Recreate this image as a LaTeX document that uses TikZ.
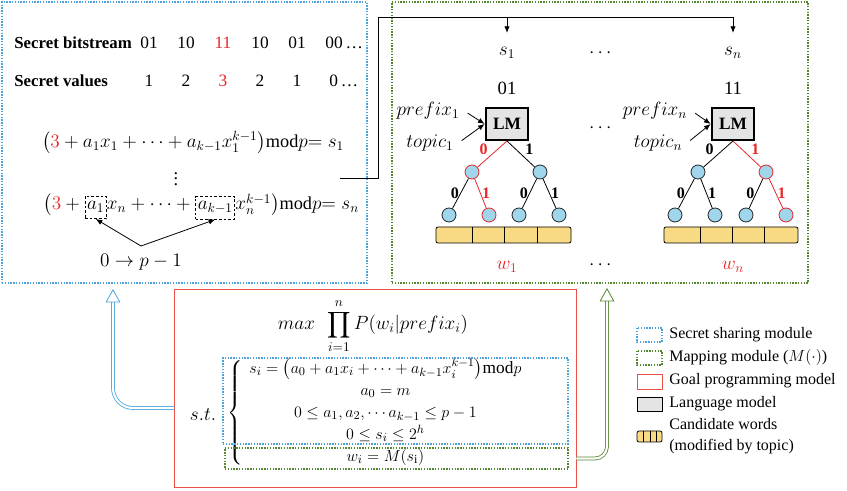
\documentclass[tikz,border=0pt]{standalone}
\usepackage{fontspec}
\setmainfont{Liberation Serif}
\usepackage{amsmath,amssymb}
\usetikzlibrary{arrows.meta,calc,positioning,fit}
\definecolor{shareblue}{RGB}{75,163,218}
\definecolor{mapgreen}{RGB}{84,135,48}
\definecolor{goalred}{RGB}{232,82,72}
\definecolor{bitred}{RGB}{232,38,42}
\definecolor{nodeblue}{RGB}{160,214,236}
\definecolor{lmgray}{RGB}{228,228,228}
\definecolor{wordyellow}{RGB}{249,218,132}

\tikzset{
  sharebox/.style={draw=shareblue, line width=1.4pt, dash pattern=on 1pt off 1.1pt, inner sep=0pt},
  mapbox/.style={draw=mapgreen, line width=1.4pt, dash pattern=on 1pt off 1.1pt, inner sep=0pt},
  goalbox/.style={draw=goalred, line width=0.6pt, inner sep=0pt},
  eq/.style={font=\fontsize{13.7}{16}\selectfont},
  rowlabel/.style={anchor=base west, inner sep=0pt, font=\bfseries\fontsize{12.6}{15}\selectfont},
  lmbox/.style={draw, fill=lmgray, line width=1.5pt, minimum width=32pt, minimum height=24pt, inner sep=0pt, font=\bfseries\fontsize{13}{15}\selectfont},
  leaf/.style={circle, draw=black!85, fill=nodeblue, minimum size=10.5pt, inner sep=0pt, line width=0.6pt},
  redleaf/.style={leaf, draw=bitred},
  bit/.style={font=\bfseries\fontsize{12}{14}\selectfont, inner sep=1pt},
  dashbox/.style={draw, dashed, dash pattern=on 2pt off 1.5pt, line width=0.5pt, inner sep=1.5pt, minimum height=17pt},
  wordbar/.style={draw, fill=wordyellow, rounded corners=1.5pt, line width=0.6pt},
  legend/.style={anchor=west, inner sep=0pt, font=\fontsize{12}{16}\selectfont},
  hollow/.style={double=white, double distance=1.6pt, line width=0.6pt, -{Triangle[open, length=10pt, width=11pt]}}
}

\begin{document}
\begin{tikzpicture}[x=0.75pt, y=-0.75pt, font=\fontsize{13}{15}\selectfont, >={Latex[length=5pt,width=4pt]}, line width=0.6pt]
  \useasboundingbox (0,0) rectangle (847,491);

  % Module frames
  \node[sharebox, fit={(2,2) (367,283)}] (share) {};
  \node[mapbox, fit={(392,2) (808,283)}] (map) {};
  \node[goalbox, fit={(174,289) (576,487)}] (goal) {};

  % Secret bitstream and values
  \node[rowlabel] (bitlbl) at (14,49) {Secret bitstream};
  \node[rowlabel] (vallbl) at (14,87) {Secret values};
  \foreach \b/\v/\xx/\c in {01/1/149/black,10/2/186/black,11/3/223/bitred,10/2/260/black,01/1/297/black}{
    \node[anchor=base, text=\c] (b\xx) at (\xx,49) {\b};
    \node[anchor=base, text=\c] (v\xx) at (\xx,87) {\v};
  }
  \node[anchor=base west, inner sep=0pt] (blast) at (325,49) {00\,\dots};
  \node[anchor=base west, inner sep=0pt] (vlast) at (329,87) {0\,\dots};

  % Shares
  \node[eq, anchor=base] (eq1) at (193,148) {$\bigl(\textcolor{bitred}{3}+a_1x_1+\cdots+a_{k-1}x_1^{k-1}\bigr)\mathrm{mod}p{=}\;s_1$};
  \node[eq] (vdots) at (176,175) {$\vdots$};
  \node[eq, anchor=base west, inner sep=0pt] (eq2a) at (43,210) {$\bigl(\textcolor{bitred}{3}+{}$};
  \node[eq, dashbox, base right=0pt of eq2a] (a1) {$a_1$};
  \node[eq, inner sep=0pt, base right=0pt of a1] (eq2b) {$x_n+\cdots+{}$};
  \node[eq, dashbox, base right=0pt of eq2b] (ak) {$a_{k-1}$};
  \node[eq, inner sep=0pt, base right=0pt of ak] (eq2c) {$x_n^{k-1}\bigr)\mathrm{mod}p{=}\;s_n$};
  \node[eq] (range) at (141,262) {$0\rightarrow p-1$};
  \coordinate (apex) at (141,246);
  \draw[->] (apex) -- (a1.south);
  \draw[->] (apex) -- (ak.south);

  % Shares into the mapping module
  \coordinate (tap) at (340,178);
  \coordinate (bus) at (378,17);
  \coordinate (s1in) at (507,33);
  \coordinate (snin) at (733,33);
  \draw[->] (tap) -| (bus) -| (snin);
  \draw[->] (s1in |- bus) -- (s1in);

  % Mapping module
  \node[eq] (s1) at (507,53) {$s_1$};
  \node[eq] (sdots) at (602,53) {$\cdots$};
  \node[eq] (sn) at (733,53) {$s_n$};
  \node[font=\fontsize{14}{16}\selectfont] (c1) at (507,88) {01};
  \node[font=\fontsize{14}{16}\selectfont] (cn) at (733,88) {11};
  \node[lmbox] (lm1) at (507,124) {LM};
  \node[lmbox] (lmn) at (733,124) {LM};
  \node[eq] (lmdots) at (602,128) {$\cdots$};
  \node[eq] (pre1) at (428,111) {$prefix_1$};
  \node[eq] (top1) at (430,143) {$topic_1$};
  \node[eq] (pren) at (655,111) {$prefix_n$};
  \node[eq] (topn) at (658,143) {$topic_n$};
  \draw[->, shorten <=3pt] (pre1.east) -- (lm1.west);
  \draw[->, shorten <=3pt] (top1.east) -- (lm1.west);
  \draw[->, shorten <=3pt] (pren.east) -- (lmn.west);
  \draw[->, shorten <=3pt] (topn.east) -- (lmn.west);

  % Binary tree of the first word
  \node[redleaf] (t1a) at (472,172) {};
  \node[leaf] (t1b) at (540,172) {};
  \node[leaf] (t1c) at (449,215) {};
  \node[redleaf] (t1d) at (489,215) {};
  \node[leaf] (t1e) at (519,215) {};
  \node[leaf] (t1f) at (559,215) {};
  \draw[bitred] (lm1.south) -- (t1a) node[bit, pos=0.6, above left] {0};
  \draw (lm1.south) -- (t1b) node[bit, pos=0.6, above right] {1};
  \draw (t1a) -- (t1c) node[bit, midway, left] {0};
  \draw[bitred] (t1a) -- (t1d) node[bit, midway, right] {1};
  \draw (t1b) -- (t1e) node[bit, midway, left] {0};
  \draw (t1b) -- (t1f) node[bit, midway, right] {1};
  \draw[wordbar] (436,227) rectangle (571,243);
  \foreach \xx in {472,504,537} \draw (\xx,227) -- (\xx,243);

  % Binary tree of the n-th word
  \node[leaf] (tna) at (698,172) {};
  \node[redleaf] (tnb) at (766,172) {};
  \node[leaf] (tnc) at (675,215) {};
  \node[leaf] (tnd) at (715,215) {};
  \node[leaf] (tne) at (746,215) {};
  \node[redleaf] (tnf) at (786,215) {};
  \draw (lmn.south) -- (tna) node[bit, pos=0.6, above left] {0};
  \draw[bitred] (lmn.south) -- (tnb) node[bit, pos=0.6, above right] {1};
  \draw (tna) -- (tnc) node[bit, midway, left] {0};
  \draw (tna) -- (tnd) node[bit, midway, right] {1};
  \draw (tnb) -- (tne) node[bit, midway, left] {0};
  \draw[bitred] (tnb) -- (tnf) node[bit, midway, right] {1};
  \draw[wordbar] (664,227) rectangle (798,243);
  \foreach \xx in {700,732,764} \draw (\xx,227) -- (\xx,243);

  \node[eq, text=bitred] (w1) at (507,267) {$w_1$};
  \node[eq] (wdots) at (602,265) {$\cdots$};
  \node[eq, text=bitred] (wn) at (733,267) {$w_n$};

  % Goal programming model
  \node[eq, anchor=base] (obj) at (373,330) {$\displaystyle max\ \ \prod_{i=1}^{n}P(w_i|prefix_i)$};
  \node[eq] (st) at (203,415) {$s.t.$};
  \node[anchor=west, inner sep=0pt, font=\fontsize{13}{15}\selectfont] (cons) at (227,413) {$\renewcommand{\arraystretch}{1.1}\left\{\begin{array}{c}
      s_i=\bigl(a_0+a_1x_i+\cdots+a_{k-1}x_i^{k-1}\bigr)\mathrm{mod}p\\
      a_0=m\\
      0\le a_1,a_2,\cdots a_{k-1}\le p-1\\
      0\le s_i\le 2^h\\
      w_i=M(s_\mathrm{i})
    \end{array}\right.$};
  \node[sharebox, fit={(223,358) (568,444)}] (sharecons) {};
  \node[mapbox, fit={(225,448) (568,469)}] (mapcons) {};

  % Feedback arrows
  \coordinate (goalout) at (174,408);
  \coordinate (shareup) at (113,289);
  \coordinate (mapup) at (607,288);
  \draw[hollow, shareblue, rounded corners=15pt] (goalout) -| (shareup);
  \draw[hollow, mapgreen, rounded corners=9pt] (goal.east |- mapcons) -| (mapup);

  % Legend
  \draw[sharebox] (637,328) rectangle (662,342);
  \node[legend] (lg1) at (669,335) {Secret sharing module};
  \draw[mapbox] (637,351) rectangle (662,365);
  \node[legend] (lg2) at (669,358) {Mapping module ($M(\cdot)$)};
  \draw[goalbox] (637,374) rectangle (662,389);
  \node[legend] (lg3) at (669,381) {Goal programming model};
  \draw[fill=lmgray, line width=0.7pt] (637,397) rectangle (662,411);
  \node[legend] (lg4) at (669,404) {Language model};
  \draw[wordbar] (637,431) rectangle (662,442);
  \foreach \xx in {643.5,650,656.5} \draw (\xx,431) -- (\xx,442);
  \node[legend, align=left] (lg5) at (669,436) {Candidate words\\(modified by topic)};
\end{tikzpicture}
\end{document}
